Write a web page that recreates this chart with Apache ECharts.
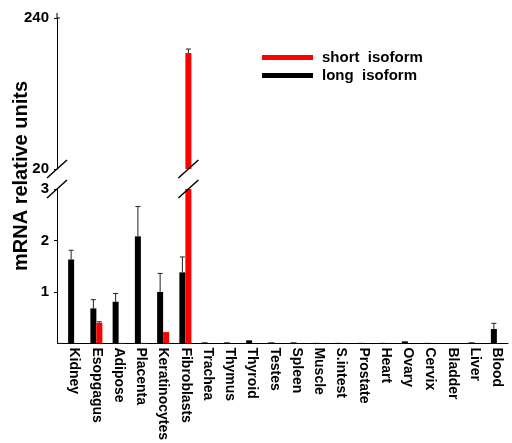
<!DOCTYPE html>
<html>
<head>
<meta charset="utf-8">
<script src="https://cdn.jsdelivr.net/npm/echarts@6/dist/echarts.min.js"></script>
<style>
html,body{margin:0;padding:0;background:#fff;}
#chart{width:512px;height:443px;}
</style>
</head>
<body>
<div id="chart"></div>
<script>
const categories = ['Kidney','Esopgagus','Adipose','Placenta','Keratinocytes','Fibroblasts','Trachea','Thymus','Thyroid','Testes','Spleen','Muscle','S.intest','Prostate','Heart','Ovary','Cervix','Bladder','Liver','Blood'];
const longValues  = [1.63, 0.68, 0.81, 2.08, 1.00, 1.38, 0.02, 0.02, 0.06, 0.02, 0.02, 0.01, 0.01, 0.01, 0.01, 0.04, 0.01, 0, 0.02, 0.28];
const longErrors  = [0.18, 0.17, 0.16, 0.58, 0.36, 0.30, 0, 0, 0, 0, 0, 0, 0, 0, 0, 0, 0, 0, 0, 0.11];
const shortValues = [0, 0.40, 0.01, 0.01, 0.22, 189, 0, 0, 0, 0, 0, 0, 0, 0, 0, 0, 0, 0, 0, 0];
const shortErrors = [0, 0.02, 0, 0, 0, 5.8, 0, 0, 0, 0, 0, 0, 0, 0, 0, 0, 0, 0, 0, 0];
const upperTicks = [20, 240];
const lowerTicks = [0, 3, 1];
const SHORT = 'short  isoform', LONG = 'long  isoform';

const BAR_W = 6;
const FONT = 'Liberation Sans';

function errSeries(name, values, errors, grid, shift) {
  return {
    type: 'custom', name: name, xAxisIndex: grid, yAxisIndex: grid, clip: true, z: 3,
    data: categories.map((c, i) => [i, values[i], errors[i]]),
    renderItem: function (params, api) {
      const i = api.value(0), v = api.value(1), e = api.value(2);
      if (!e) return;
      const p0 = api.coord([i, v]);
      const p1 = api.coord([i, v + e]);
      const x = p0[0] + shift;
      const st = { stroke: '#222', lineWidth: 1 };
      return { type: 'group', children: [
        { type: 'line', shape: { x1: x, y1: p0[1], x2: x, y2: p1[1] }, style: st },
        { type: 'line', shape: { x1: x - 2.5, y1: p1[1], x2: x + 2.5, y2: p1[1] }, style: st }
      ]};
    }
  };
}
function barSeries(name, values, color, grid) {
  return {
    type: 'bar', name: name, xAxisIndex: grid, yAxisIndex: grid, data: values,
    barWidth: BAR_W, barGap: '0%', clip: true,
    itemStyle: { color: color }
  };
}

const chart = echarts.init(document.getElementById('chart'));
const axisLab = { color: '#000', fontFamily: FONT, fontWeight: 'bold', fontSize: 15, margin: 8 };
chart.setOption({
  animation: false,
  backgroundColor: '#fff',
  legend: {
    data: [SHORT, LONG], orient: 'vertical', left: 257, top: 45,
    icon: 'rect', itemWidth: 51, itemHeight: 5, itemGap: 3,
    textStyle: { color: '#000', fontFamily: FONT, fontWeight: 'bold', fontSize: 15, padding: [0, 0, 0, 4] }
  },
  grid: [
    { left: 63, right: 4, top: 18, height: 151 },
    { left: 63, right: 4, top: 189, height: 155 }
  ],
  xAxis: [
    { type: 'category', gridIndex: 0, data: categories, show: false },
    { type: 'category', gridIndex: 1, data: categories,
      axisLine: { lineStyle: { color: '#000', width: 1 } },
      axisTick: { show: false },
      axisLabel: { interval: 0, rotate: -90, color: '#000', fontFamily: FONT, fontWeight: 'bold', fontSize: 14, margin: 4 } }
  ],
  yAxis: [
    { type: 'value', gridIndex: 0, min: upperTicks[0], max: upperTicks[1], interval: upperTicks[1] - upperTicks[0], offset: 6,
      splitLine: { show: false },
      axisLine: { show: true, lineStyle: { color: '#000', width: 1 } },
      axisTick: { show: true, length: 3, lineStyle: { color: '#000' } },
      axisLabel: axisLab },
    { type: 'value', gridIndex: 1, min: lowerTicks[0], max: lowerTicks[1], interval: lowerTicks[2], offset: 6,
      splitLine: { show: false },
      axisLine: { show: true, lineStyle: { color: '#000', width: 1 } },
      axisTick: { show: true, length: 3, lineStyle: { color: '#000' } },
      axisLabel: Object.assign({ showMinLabel: false }, axisLab) }
  ],
  series: [
    barSeries(LONG, longValues, '#000', 0),
    barSeries(SHORT, shortValues, '#ff0000', 0),
    barSeries(LONG, longValues, '#000', 1),
    barSeries(SHORT, shortValues, '#ff0000', 1),
    errSeries('errL0', longValues, longErrors, 0, -BAR_W / 2),
    errSeries('errS0', shortValues, shortErrors, 0, BAR_W / 2),
    errSeries('errL1', longValues, longErrors, 1, -BAR_W / 2),
    errSeries('errS1', shortValues, shortErrors, 1, BAR_W / 2)
  ]
});

// decorations: y axis title, break slashes, baseline extension to the offset y axis
const g0 = chart.getModel().getComponent('grid', 0).coordinateSystem.getRect();
const g1 = chart.getModel().getComponent('grid', 1).coordinateSystem.getRect();
const axisX = g1.x - 6;
const yTop = chart.convertToPixel({ yAxisIndex: 0 }, upperTicks[0]);
const yBot = chart.convertToPixel({ yAxisIndex: 1 }, lowerTicks[1]);
const yBase = chart.convertToPixel({ yAxisIndex: 1 }, 0);
const yMax = chart.convertToPixel({ yAxisIndex: 0 }, upperTicks[1]);
const fibX = chart.convertToPixel({ xAxisIndex: 1 }, 'Fibroblasts') + BAR_W / 2;
function slash(cx, cy) {
  return { type: 'line', shape: { x1: cx - 10, y1: cy + 9, x2: cx + 10, y2: cy - 9 }, style: { stroke: '#000', lineWidth: 1.5 }, z: 10 };
}
chart.setOption({
  graphic: [
    { type: 'text', x: 21, y: (yTop + yBot) / 2 - 3, rotation: Math.PI / 2,
      style: { text: 'mRNA relative units', fill: '#000', font: 'bold 20px "' + FONT + '"', align: 'center', verticalAlign: 'middle' } },
    { type: 'line', shape: { x1: axisX, y1: yBase, x2: g1.x, y2: yBase }, style: { stroke: '#000', lineWidth: 1 } },
    { type: 'line', shape: { x1: axisX, y1: yMax, x2: axisX, y2: yMax - 5 }, style: { stroke: '#000', lineWidth: 1 } },
    { type: 'line', shape: { x1: axisX, y1: yMax, x2: axisX + 3, y2: yMax }, style: { stroke: '#000', lineWidth: 1 } },
    slash(axisX, yTop), slash(axisX, yBot),
    slash(fibX, yTop), slash(fibX, yBot)
  ]
});
</script>
</body>
</html>
